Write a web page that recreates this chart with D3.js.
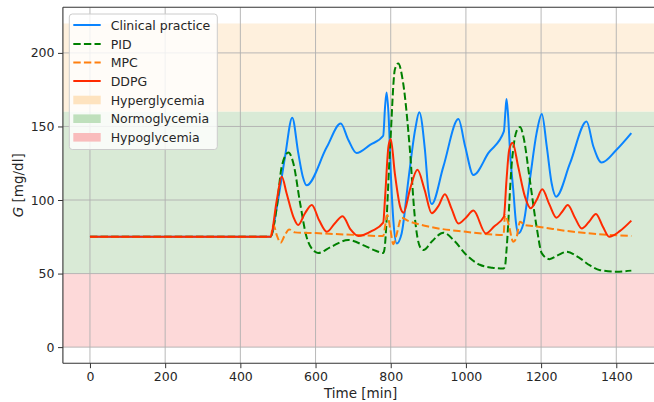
<!DOCTYPE html>
<html><head><meta charset="utf-8">
<script src="https://cdn.jsdelivr.net/npm/d3@7"></script>
<style>body{margin:0;background:#fff}svg{display:block;font-family:"DejaVu Sans",sans-serif}</style>
</head><body><svg id="c" width="654" height="402"></svg>
<script>
// ---- data ----
const clinicalT = [0,480,497,519,538,554,566,576,630,667,687,709,745,780,785,789,794,801,807,816,829,847,865,876,891,900,909,940,980,998,1020,1060,1101,1105,1108,1112,1118,1126,1133,1139,1153,1170,1188,1202,1215,1228,1240,1277,1321,1339,1361,1400,1440];
const clinicalG = [75,75,95,129.6,156,132,116,110,136,152,141,132,137.5,143.7,163.6,173,159,113.7,86,70.5,77.3,113.7,147.8,159.6,134,106.8,97.3,122.7,155,136.4,117,132,146.6,160,168.7,158,130,106.8,85,77.3,84,113.7,145.5,158.5,136.4,111.4,102.3,125,153.4,136.4,125.5,134,145.5];

const pidT = [0,480,497,510,528,541,559,576,599,607,640,687,730,760,780,783,798,811,820,833,851,864,878,887,910,940,970,1000,1037,1070,1100,1104,1108,1122,1135,1144,1153,1170,1188,1202,1222,1245,1268,1300,1330,1357,1400,1440];
const pidG = [75,75,95.5,122.7,132.3,125,97.8,75,64.8,64,68,72.8,69,65.5,64,66,134,188.7,192.8,179.6,134,88.6,68,66,72,77.8,72,63,56,54,53.4,55,66,125,147,149.6,143,113.7,81.8,63.7,59.8,62.5,64.8,61,55.5,52.3,51.3,52];

const mpcT = [0,480,488,497,507,518,530,545,600,700,780,785,791,799,807,815,829,845,900,1000,1100,1104,1113,1126,1135,1144,1157,1179,1215,1250,1286,1440];
const mpcG = [75,75,83,76,71,76,80,78,77.5,76.3,75.5,82,89.8,80,70,76,88,86,82,78.4,76.2,89.8,84,71.6,75,85.2,83,82.3,81,79.6,78.4,75.5];

const ddpgT = [0,480,497,510,523,541,554,572,590,610,630,651,672,693,714,750,780,785,794,800,811,825,834,852,871,890,909,927,944,962,980,1000,1020,1053,1075,1101,1108,1115,1124,1139,1157,1172,1188,1203,1222,1241,1256,1271,1290,1308,1327,1346,1364,1381,1410,1440];
const ddpgG = [75,75,100,116,104.6,88.6,83,91,96.6,86,78.4,84,89,80,75.5,79,84.6,102,136.4,141.4,118,95.5,91.4,108,120.5,107,91,96,104,94,84,88,92.8,77.3,82,88.7,113.7,134,139,122.7,102.3,94.4,100,107.3,97,88,92,96.6,88,80.7,85,90.5,82,75,79,86];

const seriesNames = ["Clinical practice","PID","MPC","DDPG"];
const bandNames = ["Hyperglycemia","Normoglycemia","Hypoglycemia"];
const bandLow = [160,50,0];
const bandHigh = [220,160,50];
const xTicks = [0,200,400,600,800,1000,1200,1400];
const yTicks = [0,50,100,150,200];

// ---- drawing ----
const svg = d3.select("#c");
const L = 62.9, R = 658.4, T = 7.3, B = 363.3;
const x = d3.scaleLinear().domain([-72,1512]).range([L,R]);
const y = d3.scaleLinear().domain([-11,231]).range([B,T]);

svg.append("defs").append("clipPath").attr("id","clip").append("rect")
  .attr("x",L).attr("y",T).attr("width",R-L).attr("height",B-T);

const bandFill = ["#fef0dd","#d9ead6","#fdd9d9"];
const bandLegend = ["#fee3bf","#bfe0bc","#f9bcbc"];
const plot = svg.append("g").attr("clip-path","url(#clip)");
bandNames.forEach((n,i)=>{
  plot.append("rect").attr("x",L).attr("width",R-L)
    .attr("y",y(bandHigh[i])).attr("height",y(bandLow[i])-y(bandHigh[i]))
    .attr("fill",bandFill[i]);
});

// grid
xTicks.forEach(t=>plot.append("line").attr("x1",x(t)).attr("x2",x(t)).attr("y1",T).attr("y2",B)
  .attr("stroke","#b0b0b0").attr("stroke-width",0.9));
yTicks.forEach(t=>plot.append("line").attr("x1",L).attr("x2",R).attr("y1",y(t)).attr("y2",y(t))
  .attr("stroke","#b0b0b0").attr("stroke-width",0.9));

const colors = ["#0a84ff","#008000","#ff7f0e","#ff2a00"];
const dashes = [null,"7.4,3.2","7.4,3.2",null];
const data = [[clinicalT,clinicalG],[pidT,pidG],[mpcT,mpcG],[ddpgT,ddpgG]];
const line = d3.line().x(d=>x(d[0])).y(d=>y(d[1])).curve(d3.curveMonotoneX);
data.forEach((s,i)=>{
  const pts = s[0].map((t,j)=>[t,s[1][j]]);
  plot.append("path").datum(pts).attr("d",line).attr("fill","none")
    .attr("stroke",colors[i]).attr("stroke-width",2)
    .attr("stroke-dasharray",dashes[i]).attr("stroke-linejoin","round");
});

// axes
const xa = svg.append("g").attr("transform",`translate(0,${B})`)
  .call(d3.axisBottom(x).tickValues(xTicks).tickSize(4.9).tickPadding(3.5).tickFormat(d3.format("d")));
const ya = svg.append("g").attr("transform",`translate(${L},0)`)
  .call(d3.axisLeft(y).tickValues(yTicks).tickSize(4.9).tickPadding(3.5).tickFormat(d3.format("d")));
[xa,ya].forEach(a=>{
  a.select(".domain").remove();
  a.selectAll("text").attr("font-size","12.5px").attr("fill","#262626").attr("font-family","DejaVu Sans");
  a.selectAll("line").attr("stroke","#333").attr("stroke-width",1);
});
// spines
svg.append("line").attr("x1",L).attr("x2",L).attr("y1",T).attr("y2",B).attr("stroke","#333").attr("stroke-width",1.1);
svg.append("line").attr("x1",L).attr("x2",R).attr("y1",B).attr("y2",B).attr("stroke","#333").attr("stroke-width",1.1);
svg.append("line").attr("x1",L).attr("x2",R).attr("y1",T).attr("y2",T).attr("stroke","#333").attr("stroke-width",1.1);
svg.append("line").attr("x1",R).attr("x2",R).attr("y1",T).attr("y2",B).attr("stroke","#333").attr("stroke-width",1.1);

svg.append("text").attr("x",(L+R)/2).attr("y",398).attr("text-anchor","middle")
  .attr("font-size","13.5px").attr("fill","#262626").text("Time [min]");
const yl = svg.append("text").attr("transform",`translate(23,${(T+B)/2}) rotate(-90)`)
  .attr("text-anchor","middle").attr("font-size","13.5px").attr("fill","#262626");
yl.append("tspan").attr("font-style","italic").text("G");
yl.append("tspan").text(" [mg/dl]");

// legend
const lg = svg.append("g");
lg.append("rect").attr("x",69.3).attr("y",14).attr("width",148).attr("height",135.5).attr("rx",3)
  .attr("fill","#fff").attr("fill-opacity",0.8).attr("stroke","#cccccc").attr("stroke-width",1);
const rowY = [25,44,62.5,81,100,118.7,137.3];
seriesNames.forEach((n,i)=>{
  lg.append("line").attr("x1",73.3).attr("x2",100.7).attr("y1",rowY[i]).attr("y2",rowY[i])
    .attr("stroke",colors[i]).attr("stroke-width",2).attr("stroke-dasharray",dashes[i]);
  lg.append("text").attr("x",110.7).attr("y",rowY[i]).attr("dy","0.36em").attr("font-size","12.5px")
    .attr("fill","#262626").text(n);
});
bandNames.forEach((n,i)=>{
  const yy = rowY[4+i];
  lg.append("rect").attr("x",73.3).attr("y",yy-4.3).attr("width",27.4).attr("height",8.6).attr("fill",bandLegend[i]);
  lg.append("text").attr("x",110.7).attr("y",yy).attr("dy","0.36em").attr("font-size","12.5px")
    .attr("fill","#262626").text(n);
});
</script></body></html>
